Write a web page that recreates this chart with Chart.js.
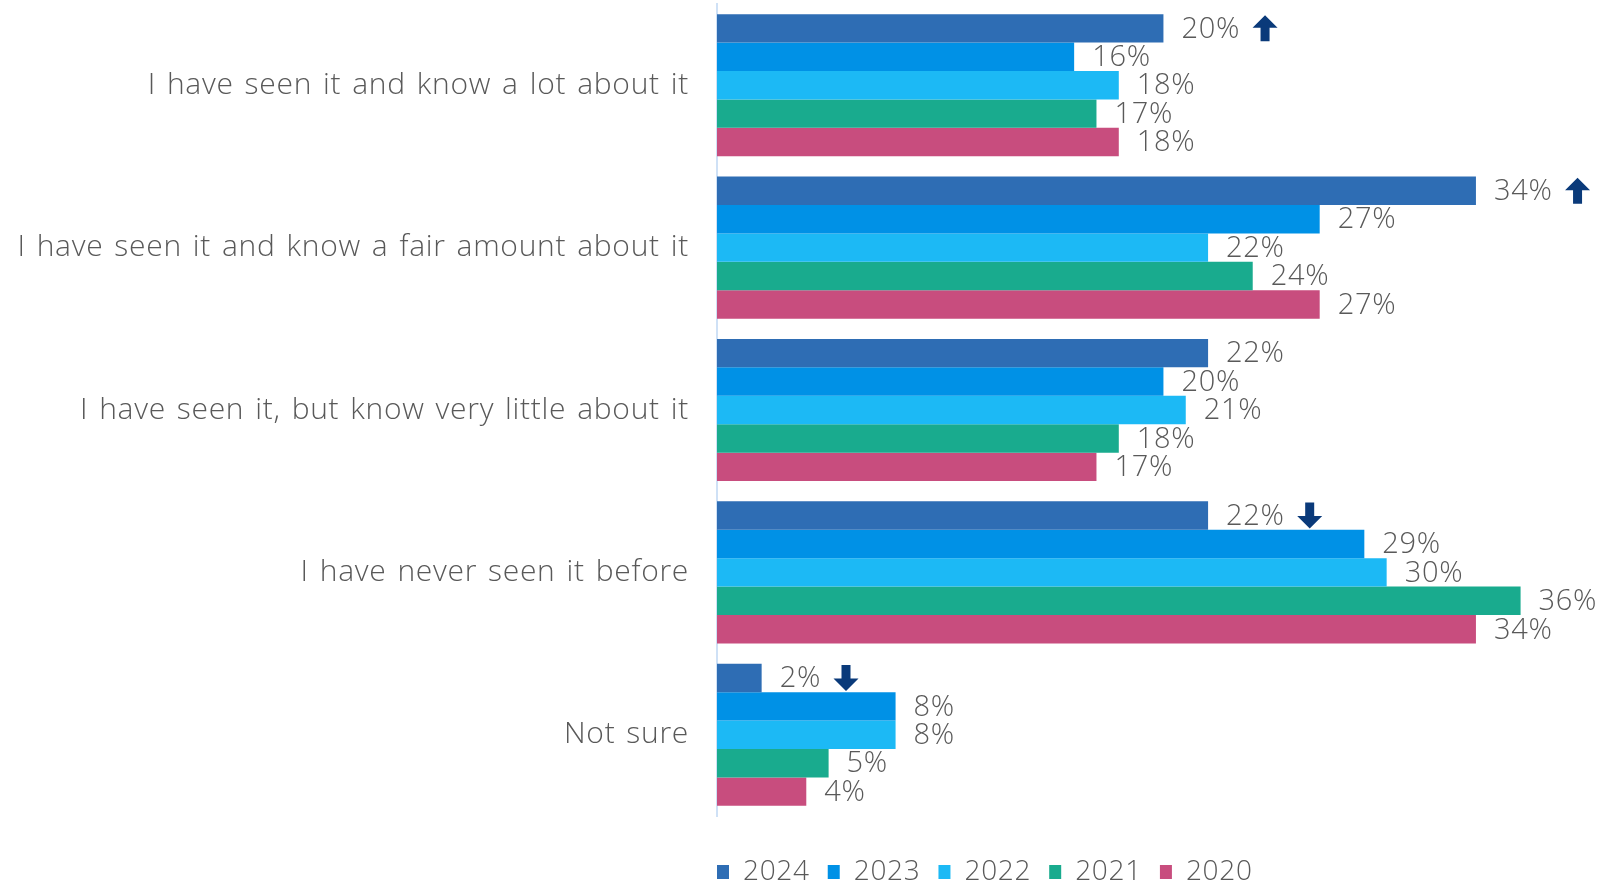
<!DOCTYPE html>
<html>
<head>
<meta charset="utf-8">
<script src="https://cdn.jsdelivr.net/npm/chart.js@4.4.1/dist/chart.umd.min.js"></script>
<style>
  body { margin: 0; background: #fff; }
  #wrap { width: 1598px; height: 882px; }
</style>
</head>
<body>
<div id="wrap"><canvas id="awareness" width="1598" height="882"></canvas></div>
<script>
const categories = [
  'I have seen it and know a lot about it',
  'I have seen it and know a fair amount about it',
  'I have seen it, but know very little about it',
  'I have never seen it before',
  'Not sure'
];
const years = ['2024', '2023', '2022', '2021', '2020'];
const values2024 = [20, 34, 22, 22, 2];
const values2023 = [16, 27, 20, 29, 8];
const values2022 = [18, 22, 21, 30, 8];
const values2021 = [17, 24, 18, 36, 5];
const values2020 = [18, 27, 17, 34, 4];
// change vs previous year, shown next to the 2024 label
const trend2024 = ['up', 'up', null, 'down', 'down'];

const colors = ['#2e6db4', '#0091e6', '#1cb9f5', '#19ab8e', '#c84d7e'];
const FONT = "'Open Sans', 'Noto Sans', sans-serif";
const TEXT = '#595959';

const series = [values2024, values2023, values2022, values2021, values2020];

// a touch of extra spacing so the light font sits wider
const textSpacing = {
  id: 'textSpacing',
  beforeUpdate(chart) {
    chart.ctx.letterSpacing = '0.7px';
    chart.ctx.wordSpacing = '2.5px';
  }
};

// percent labels after every bar, plus the trend arrow for 2024
const barLabels = {
  id: 'barLabels',
  afterDatasetsDraw(chart) {
    const ctx = chart.ctx;
    ctx.save();
    ctx.font = '300 29px ' + FONT;
    ctx.fillStyle = TEXT;
    ctx.textBaseline = 'middle';
    ctx.textAlign = 'left';
    chart.data.datasets.forEach((ds, di) => {
      const meta = chart.getDatasetMeta(di);
      meta.data.forEach((bar, i) => {
        const txt = ds.data[i] + '%';
        const x = bar.x + 18;
        ctx.fillText(txt, x, bar.y + 1);
        if (di === 0 && trend2024[i]) {
          const w = ctx.measureText(txt).width;
          drawArrow(ctx, x + w + 25, bar.y, trend2024[i]);
          ctx.fillStyle = TEXT;
        }
      });
    });
    ctx.restore();
  }
};

function drawArrow(ctx, cx, cy, dir) {
  const s = dir === 'up' ? -1 : 1;
  ctx.fillStyle = '#0a3a7a';
  ctx.beginPath();
  ctx.moveTo(cx, cy + s * 13);
  ctx.lineTo(cx + 12.5, cy + s * 0.5);
  ctx.lineTo(cx + 4.5, cy + s * 0.5);
  ctx.lineTo(cx + 4.5, cy - s * 13);
  ctx.lineTo(cx - 4.5, cy - s * 13);
  ctx.lineTo(cx - 4.5, cy + s * 0.5);
  ctx.lineTo(cx - 12.5, cy + s * 0.5);
  ctx.closePath();
  ctx.fill();
}

// put the legend row under the bars, starting at the axis line
const legendPlace = {
  id: 'legendPlace',
  afterLayout(chart) {
    const lg = chart.legend;
    const pad = lg.options.labels.padding;
    const h = lg.bottom - lg.top;
    lg.left = chart.chartArea.left - pad;
    lg.top = 840;
    lg.bottom = lg.top + h;
  }
};

new Chart(document.getElementById('awareness'), {
  type: 'bar',
  data: {
    labels: categories,
    datasets: series.map((d, i) => ({
      label: years[i],
      data: d,
      backgroundColor: colors[i],
      borderWidth: 0,
      barPercentage: 1,
      categoryPercentage: 0.875
    }))
  },
  options: {
    indexAxis: 'y',
    responsive: false,
    animation: false,
    layout: { padding: { top: 4, right: 35, bottom: 10, left: 0 } },
    plugins: {
      tooltip: { enabled: false },
      legend: {
        position: 'bottom',
        align: 'start',
        labels: {
          boxWidth: 12,
          boxHeight: 14,
          padding: 18,
          color: TEXT,
          font: { family: FONT, size: 28, weight: '300' }
        }
      }
    },
    scales: {
      x: {
        min: 0,
        max: 37.9,
        display: false
      },
      y: {
        grid: { display: false },
        border: { display: true, color: '#cfe1f6', width: 2 },
        ticks: {
          color: TEXT,
          padding: 20,
          font: { family: FONT, size: 30, weight: '300' }
        },
        afterFit(scale) {
          scale.width = 717;
          scale.paddingTop = 0;
          scale.paddingBottom = 0;
        }
      }
    }
  },
  plugins: [textSpacing, barLabels, legendPlace]
});
</script>
</body>
</html>
